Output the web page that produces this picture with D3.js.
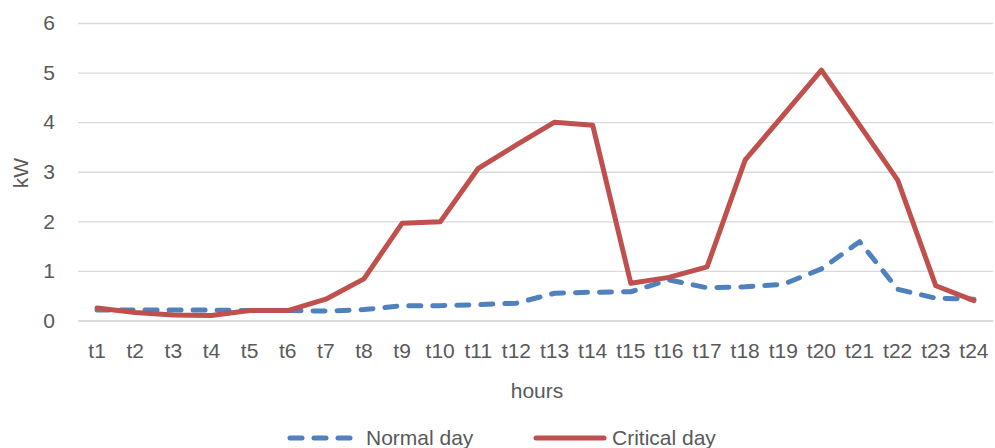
<!DOCTYPE html>
<html>
<head>
<meta charset="utf-8">
<script src="https://cdn.jsdelivr.net/npm/d3@7"></script>
<style>
  html, body { margin: 0; padding: 0; background: #fff; }
  svg { display: block; }
  text { font-family: "Liberation Sans", Arial, sans-serif; fill: #595959; }
</style>
</head>
<body>
<svg id="chart" width="995" height="448"></svg>
<script>
// Hourly load profile, kW
const hours = ["t1","t2","t3","t4","t5","t6","t7","t8","t9","t10","t11","t12",
               "t13","t14","t15","t16","t17","t18","t19","t20","t21","t22","t23","t24"];
const normalDay = [0.21,0.21,0.21,0.21,0.20,0.20,0.19,0.22,0.30,0.30,0.32,0.35,
                   0.55,0.57,0.58,0.82,0.66,0.68,0.73,1.04,1.59,0.63,0.45,0.43];
const criticalDay = [0.25,0.16,0.11,0.10,0.20,0.20,0.43,0.84,1.96,1.99,3.07,3.54,
                     4.00,3.94,0.75,0.87,1.08,3.24,4.14,5.05,3.94,2.83,0.70,0.40];
const yTicks = [0,1,2,3,4,5,6];
const seriesNames = ["Normal day", "Critical day"];

const svg = d3.select("#chart");
const plot = { left: 78, right: 993, top: 23, bottom: 320.5 };

const x = d3.scaleBand().domain(hours).range([plot.left, plot.right]);
const y = d3.scaleLinear().domain([0, 6]).range([plot.bottom, plot.top]);
const cx = d => x(d) + x.bandwidth() / 2;

// horizontal gridlines
const yAxis = d3.axisLeft(y).tickValues(yTicks).tickFormat(d3.format("d"))
  .tickSize(-(plot.right - plot.left)).tickPadding(23);
const gy = svg.append("g").attr("transform", `translate(${plot.left},0)`).call(yAxis);
gy.select(".domain").remove();
gy.selectAll(".tick line").attr("stroke", "#d9d9d9").attr("stroke-width", 1.3);
gy.selectAll(".tick text").style("font-size", "21px").attr("fill", "#595959");

// category axis
const xAxis = d3.axisBottom(x).tickSize(0).tickPadding(23);
const gx = svg.append("g").attr("transform", `translate(0,${plot.bottom})`).call(xAxis);
gx.select(".domain").attr("stroke", "#d9d9d9").attr("stroke-width", 1.3);
gx.selectAll(".tick text").style("font-size", "21px").attr("fill", "#595959");

// axis titles
svg.append("text")
  .attr("transform", `translate(28,173) rotate(-90)`)
  .attr("text-anchor", "middle")
  .style("font-size", "21px")
  .text("kW");
svg.append("text")
  .attr("x", 537).attr("y", 398)
  .attr("text-anchor", "middle")
  .style("font-size", "21px")
  .text("hours");

const line = d3.line().x((d, i) => cx(hours[i])).y(d => y(d));

svg.append("path")
  .datum(normalDay)
  .attr("d", line)
  .attr("fill", "none")
  .attr("stroke", "#4f81bd")
  .attr("stroke-width", 5)
  .attr("stroke-linecap", "round")
  .attr("stroke-linejoin", "round")
  .attr("stroke-dasharray", "12,12");

svg.append("path")
  .datum(criticalDay)
  .attr("d", line)
  .attr("fill", "none")
  .attr("stroke", "#c0504d")
  .attr("stroke-width", 5)
  .attr("stroke-linecap", "round")
  .attr("stroke-linejoin", "round");

// legend (sits at the bottom edge)
const legend = [
  { name: seriesNames[0], color: "#4f81bd", dash: "12,12", x0: 290, x1: 351, tx: 366 },
  { name: seriesNames[1], color: "#c0504d", dash: null, x0: 536, x1: 604, tx: 612 }
];
const lg = svg.append("g");
legend.forEach(l => {
  lg.append("line")
    .attr("x1", l.x0).attr("x2", l.x1).attr("y1", 438).attr("y2", 438)
    .attr("stroke", l.color).attr("stroke-width", 5)
    .attr("stroke-linecap", "round")
    .attr("stroke-dasharray", l.dash);
  lg.append("text")
    .attr("x", l.tx).attr("y", 445)
    .style("font-size", "21px")
    .text(l.name);
});
</script>
</body>
</html>
